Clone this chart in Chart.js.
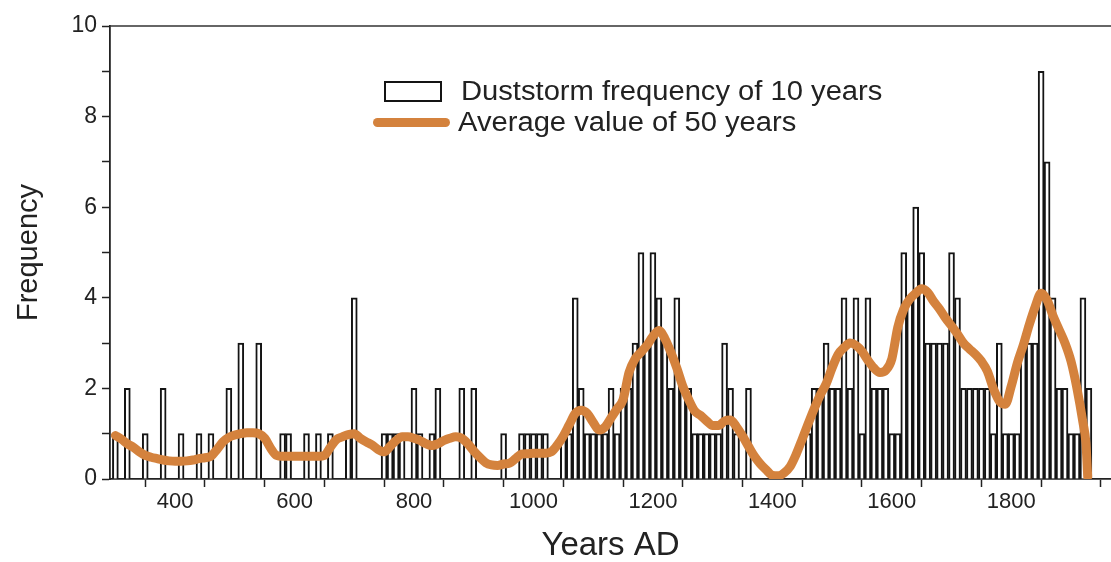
<!DOCTYPE html>
<html>
<head>
<meta charset="utf-8">
<title>Duststorm frequency</title>
<script src="https://cdn.jsdelivr.net/npm/chart.js@4.4.1/dist/chart.umd.min.js"></script>
<style>
  html, body { margin: 0; padding: 0; background: #ffffff; }
  #wrap { position: relative; width: 1111px; height: 562px; overflow: hidden; }
  #legend { position: absolute; left: 0; top: 0; font-family: 'Liberation Sans', Arial, sans-serif; font-size: 27px; line-height: 1; color: #222; }
  .legend-item { position: absolute; display: flex; align-items: center; white-space: nowrap; }
  .legend-text { display: inline-block; transform: scaleX(1.08); transform-origin: left center; }
</style>
</head>
<body>
<div id="wrap">
  <canvas id="chart"></canvas>
  <div id="legend"></div>
</div>
<script>
// 10-year bins, centred on the bin year
const binStart = 300;
const binStep = 10;

// Duststorm events counted per 10-year bin, 300 ... 1930 AD
const stormCounts = [
  1, 0, 2, 0, 0, 1, 0, 0, 2, 0,   // 300s
  0, 1, 0, 0, 1, 0, 1, 0, 0, 2,   // 400s
  0, 3, 0, 0, 3, 0, 0, 0, 1, 1,   // 500s
  0, 0, 1, 0, 1, 0, 1, 0, 0, 1,   // 600s
  4, 0, 0, 0, 0, 1, 1, 1, 1, 0,   // 700s
  2, 1, 0, 1, 2, 0, 0, 0, 2, 0,   // 800s
  2, 0, 0, 0, 0, 1, 0, 0, 1, 1,   // 900s
  1, 1, 1, 0, 0, 1, 1, 4, 2, 1,   // 1000s
  1, 1, 1, 2, 1, 2, 2, 3, 5, 3,   // 1100s
  5, 4, 3, 2, 4, 2, 2, 1, 1, 1,   // 1200s
  1, 1, 3, 2, 1, 0, 2, 0, 0, 0,   // 1300s
  0, 0, 0, 0, 0, 0, 1, 2, 2, 3,   // 1400s
  2, 2, 4, 2, 4, 1, 4, 2, 2, 2,   // 1500s
  1, 1, 5, 4, 6, 5, 3, 3, 3, 3,   // 1600s
  5, 4, 2, 2, 2, 2, 2, 1, 3, 1,   // 1700s
  1, 1, 3, 3, 3, 9, 7, 4, 2, 2,   // 1800s
  1, 1, 4, 2                      // 1900s
];

// 50-year running average, sampled every 10 years from 300 AD, plus the closing drop
const avgYears = Array.from({ length: 163 }, (_, i) => binStart + i * binStep).concat([1925, 1928]);
const avgValues = [
  0.96, 0.88, 0.78, 0.70, 0.60, 0.52, 0.48, 0.45, 0.42, 0.40,  // 300s
  0.39, 0.39, 0.40, 0.42, 0.45, 0.47, 0.50, 0.65, 0.82, 0.92,  // 400s
  0.97, 1.00, 1.02, 1.02, 1.00, 0.90, 0.68, 0.52, 0.50, 0.50,  // 500s
  0.50, 0.50, 0.50, 0.50, 0.50, 0.52, 0.70, 0.87, 0.93, 0.98,  // 600s
  1.00, 0.90, 0.82, 0.75, 0.65, 0.60, 0.72, 0.85, 0.93, 0.93,  // 700s
  0.90, 0.85, 0.78, 0.74, 0.78, 0.85, 0.90, 0.93, 0.90, 0.78,  // 800s
  0.62, 0.48, 0.36, 0.31, 0.30, 0.33, 0.35, 0.45, 0.55, 0.56,  // 900s
  0.57, 0.57, 0.57, 0.60, 0.75, 0.95, 1.20, 1.45, 1.52, 1.45,  // 1000s
  1.25, 1.08, 1.15, 1.35, 1.55, 1.75, 2.35, 2.65, 2.80, 2.95,  // 1100s
  3.15, 3.28, 3.10, 2.80, 2.45, 2.05, 1.75, 1.50, 1.40, 1.28,  // 1200s
  1.18, 1.18, 1.28, 1.30, 1.15, 0.95, 0.72, 0.50, 0.33, 0.20,  // 1300s
  0.08, 0.07, 0.14, 0.28, 0.55, 0.88, 1.22, 1.55, 1.85, 2.10,  // 1400s
  2.45, 2.75, 2.90, 3.00, 2.95, 2.82, 2.62, 2.45, 2.35, 2.40,  // 1500s
  2.65, 3.35, 3.75, 3.97, 4.10, 4.20, 4.12, 3.92, 3.75, 3.55,  // 1600s
  3.38, 3.20, 3.00, 2.87, 2.75, 2.60, 2.38, 2.00, 1.72, 1.65,  // 1700s
  2.05, 2.55, 2.95, 3.40, 3.80, 4.10, 3.95, 3.60, 3.30, 3.00,  // 1800s
  2.60, 2.00, 1.25, 0.80, 0.05                                 // 1900s
];

// Years that carry a label on the time axis
const labeledYears = [400, 600, 800, 1000, 1200, 1400, 1600, 1800];

const seriesNames = ['Duststorm frequency of 10 years', 'Average value of 50 years'];

const FONT = "'Liberation Sans', Arial, Helvetica, sans-serif";
const INK = '#222222';
const ORANGE = '#D4823D';

const barPoints = stormCounts.map((c, i) => ({ x: binStart + i * binStep, y: c > 0 ? c : null }));
const avgPoints = avgYears.map((yr, i) => ({ x: yr, y: avgValues[i] }));

// thin frame line along the top of the plot area
const topFrame = {
  id: 'topFrame',
  afterDraw(chart) {
    const { ctx, chartArea } = chart;
    ctx.save();
    ctx.strokeStyle = '#333';
    ctx.lineWidth = 1.5;
    ctx.beginPath();
    ctx.moveTo(chartArea.left, chartArea.top);
    ctx.lineTo(chartArea.right, chartArea.top);
    ctx.stroke();
    ctx.restore();
  }
};

const tickGrid = {
  display: true,
  drawOnChartArea: false,
  drawTicks: true,
  tickLength: 8,
  tickWidth: 1.5,
  tickColor: INK
};

const chart = new Chart(document.getElementById('chart'), {
  type: 'bar',
  data: {
    datasets: [
      {
        type: 'line',
        label: seriesNames[1],
        data: avgPoints,
        borderColor: ORANGE,
        backgroundColor: ORANGE,
        borderWidth: 9,
        pointRadius: 0,
        cubicInterpolationMode: 'monotone',
        borderCapStyle: 'round',
        borderJoinStyle: 'round',
        fill: false,
        order: 1
      },
      {
        type: 'bar',
        label: seriesNames[0],
        data: barPoints,
        backgroundColor: '#ffffff',
        borderColor: '#141414',
        borderWidth: 2,
        barPercentage: 1,
        categoryPercentage: 1,
        order: 2
      }
    ]
  },
  options: {
    responsive: true,
    maintainAspectRatio: false,
    animation: false,
    layout: { padding: { top: 26, right: 0, bottom: 0, left: 0 } },
    plugins: {
      legend: { display: false },
      tooltip: { enabled: false }
    },
    scales: {
      x: {
        type: 'linear',
        min: 291,
        max: 1967,
        offset: false,
        grid: tickGrid,
        border: { display: true, color: INK, width: 1.8 },
        ticks: {
          stepSize: 100,
          includeBounds: false,
          autoSkip: false,
          maxRotation: 0,
          padding: 2,
          color: INK,
          font: { family: FONT, size: 22 },
          callback: v => (labeledYears.includes(v) ? String(v) : '')
        },
        title: {
          display: true,
          text: 'Years AD',
          color: INK,
          font: { family: FONT, size: 33, lineHeight: 1 },
          padding: { top: 0, bottom: 0 }
        },
        afterFit: scale => { scale.height = 83; }
      },
      y: {
        min: 0,
        max: 10,
        grid: tickGrid,
        border: { display: true, color: INK, width: 1.8 },
        ticks: {
          stepSize: 1,
          padding: 5,
          color: INK,
          font: { family: FONT, size: 23 },
          callback: v => (v % 2 === 0 ? String(v) : '')
        },
        title: {
          display: true,
          text: 'Frequency',
          color: INK,
          font: { family: FONT, size: 29, lineHeight: 1 },
          padding: { top: 14, bottom: 0 }
        },
        afterFit: scale => { scale.width = 110; }
      }
    }
  },
  plugins: [topFrame]
});

// HTML legend built from the chart's datasets
const legendEl = document.getElementById('legend');
const legendSpots = [
  { name: seriesNames[0], left: 384, top: 78 },
  { name: seriesNames[1], left: 373, top: 109 }
];
legendSpots.forEach(spot => {
  const ds = chart.data.datasets.find(d => d.label === spot.name);
  const item = document.createElement('div');
  item.className = 'legend-item';
  item.style.left = spot.left + 'px';
  item.style.top = spot.top + 'px';
  item.style.height = '27px';
  const swatch = document.createElement('span');
  if (ds.type === 'bar') {
    swatch.style.cssText = 'display:inline-block;width:54px;height:17px;background:' + ds.backgroundColor +
      ';border:2px solid ' + ds.borderColor + ';margin-right:19px;';
  } else {
    swatch.style.cssText = 'display:inline-block;width:77px;height:9px;border-radius:5px;background:' +
      ds.borderColor + ';margin-right:8px;';
  }
  const text = document.createElement('span');
  text.className = 'legend-text';
  text.textContent = ds.label;
  item.appendChild(swatch);
  item.appendChild(text);
  legendEl.appendChild(item);
});
</script>
</body>
</html>
